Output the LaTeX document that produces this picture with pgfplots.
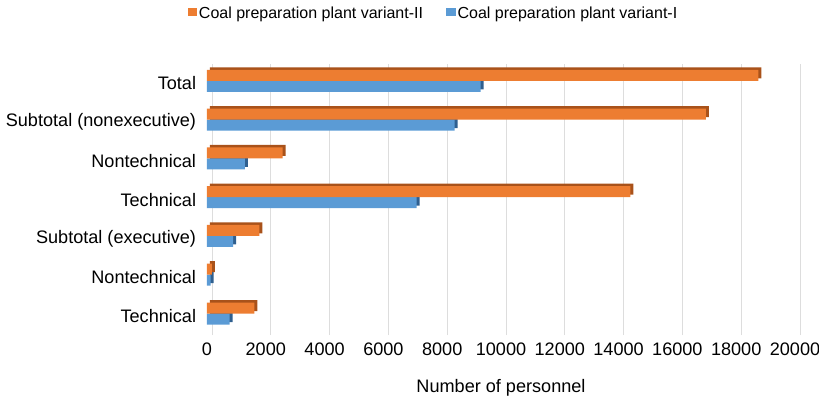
\documentclass[border=0pt]{standalone}
\usepackage{fontspec}
\setmainfont{Liberation Sans}
\usepackage{pgfplots}
\usepackage{pgfplotstable}
\pgfplotsset{compat=1.18}
\definecolor{orangeC}{HTML}{ED7D31}
\definecolor{orangeD}{HTML}{A9521A}
\definecolor{blueC}{HTML}{5B9BD5}
\definecolor{blueD}{HTML}{2F5F8F}
\definecolor{gridC}{HTML}{DDDDDD}

% y: 0 Technical (exec), 1 Nontechnical (exec), 2 Subtotal (executive),
%    3 Technical, 4 Nontechnical, 5 Subtotal (nonexecutive), 6 Total
\pgfplotstableread{
y vI vII
0 770 1610
1 120 170
2 890 1780
3 7130 14400
4 1290 2570
5 8420 16970
6 9310 18750
}\datatable

\begin{document}
\begin{tikzpicture}[x=1pt,y=1pt]
\path[use as bounding box] (-207,-62.6) rectangle (612,335.4);
\begin{axis}[
  at={(0,0)}, anchor=south west,
  width=588pt, height=271.5pt, scale only axis,
  xbar, bar width=11pt,
  xmin=0, xmax=20000, ymin=-0.5, ymax=6.5,
  xtick={0,2000,...,20000},
  ytick={0,...,6},
  yticklabels={Technical,Nontechnical,Subtotal (executive),Technical,Nontechnical,Subtotal (nonexecutive),Total},
  scaled x ticks=false,
  /pgf/number format/1000 sep={},
  /pgf/number format/assume math mode=true,
  axis line style={draw=none},
  tick style={draw=none},
  xmajorgrids,
  major grid style={gridC, line width=0.9pt, xshift=5pt},
  ticklabel style={font=\fontsize{18.1}{20}\selectfont},
  xticklabel style={inner sep=0pt, anchor=north, yshift=-7.6pt},
  yticklabel style={inner sep=0pt, anchor=east, xshift=-6.5pt},
  xlabel={Number of personnel},
  xlabel style={font=\fontsize{18.1}{20}\selectfont, at={(axis description cs:0.5,0)}, anchor=north, yshift=-44pt, inner sep=0pt},
  legend style={at={(0.3855,1.184)}, anchor=center, draw=none, fill=none,
    font=\fontsize{16}{18}\selectfont, inner sep=0pt,
    nodes={inner xsep=2.3pt, inner ysep=1pt}, cells={anchor=west},
    /tikz/every even column/.append style={column sep=21pt}},
  legend columns=2,
]
% blue (variant-I)
\addplot[forget plot, fill=blueD, draw=none, bar shift=-3pt, xshift=3pt, yshift=2.5pt] table[x=vI, y=y] {\datatable};
\addplot[forget plot, fill=blueC, draw=none, bar shift=-3pt] table[x=vI, y=y] {\datatable};
% orange (variant-II)
\addplot[forget plot, fill=orangeD, draw=none, bar shift=8pt, xshift=3pt, yshift=2.5pt] table[x=vII, y=y] {\datatable};
\addplot[forget plot, fill=orangeC, draw=none, bar shift=8pt] table[x=vII, y=y] {\datatable};
\addlegendimage{legend image code/.code={\fill[orangeC] (0pt,-1pt) rectangle (8.5pt,6pt);}}
\addlegendentry{Coal preparation plant variant-II}
\addlegendimage{legend image code/.code={\fill[blueC] (0pt,-1pt) rectangle (8.5pt,6pt);}}
\addlegendentry{Coal preparation plant variant-I}
\end{axis}
\end{tikzpicture}
\end{document}
